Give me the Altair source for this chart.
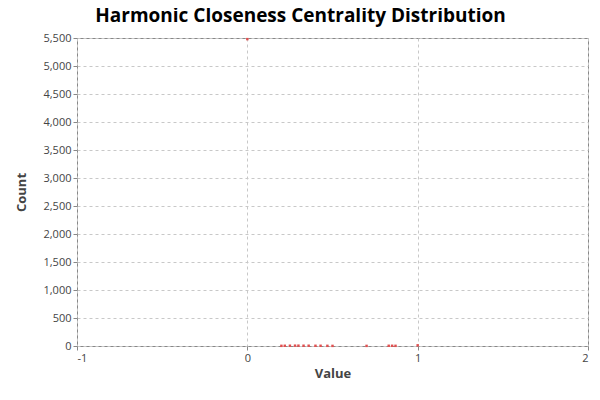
import altair as alt
import pandas as pd

values = [0.0, 0.2, 0.22, 0.25, 0.28, 0.3, 0.33, 0.36, 0.4, 0.43, 0.47, 0.5, 0.7, 0.83, 0.85, 0.87, 1.0]
counts = [5480, 3, 4, 5, 6, 6, 5, 5, 4, 4, 3, 2, 2, 4, 4, 3, 12]

df = pd.DataFrame({"value": values, "count": counts})

pts = alt.Chart(df).mark_square(color="#e05050", size=6, opacity=1).encode(
    x=alt.X("value:Q", title="Value", scale=alt.Scale(domain=[-1, 2], nice=False),
            axis=alt.Axis(values=[-1, 0, 1, 2], labelExpr="replace(datum.label, '−', '-')",
                          format="d", gridDash=[3, 3], gridColor="#c8c8c8")),
    y=alt.Y("count:Q", title="Count", scale=alt.Scale(domain=[0, 5500], nice=False),
            axis=alt.Axis(values=list(range(0, 5501, 500)), format=",d", gridDash=[3, 3], gridColor="#c8c8c8")),
)

chart = pts.properties(
    width=511, height=308,
    title=alt.Title("Harmonic Closeness Centrality Distribution", fontSize=19, font="Open Sans",
                    fontWeight="bold", anchor="middle", offset=6, dx=-32),
    autosize=alt.AutoSizeParams(type="none"),
    padding={"left": 69, "top": 30, "right": 4, "bottom": 46},
).configure_view(stroke="#888888").configure_axis(
    labelFont="Open Sans", titleFont="Open Sans", labelColor="#444", titleColor="#444",
    labelFontSize=11, titleFontSize=13, domain=False, tickColor="#888", tickSize=4,
).configure_axisY(titlePadding=14)

chart.save("out.html", embed_options={"renderer": "svg", "actions": False})
